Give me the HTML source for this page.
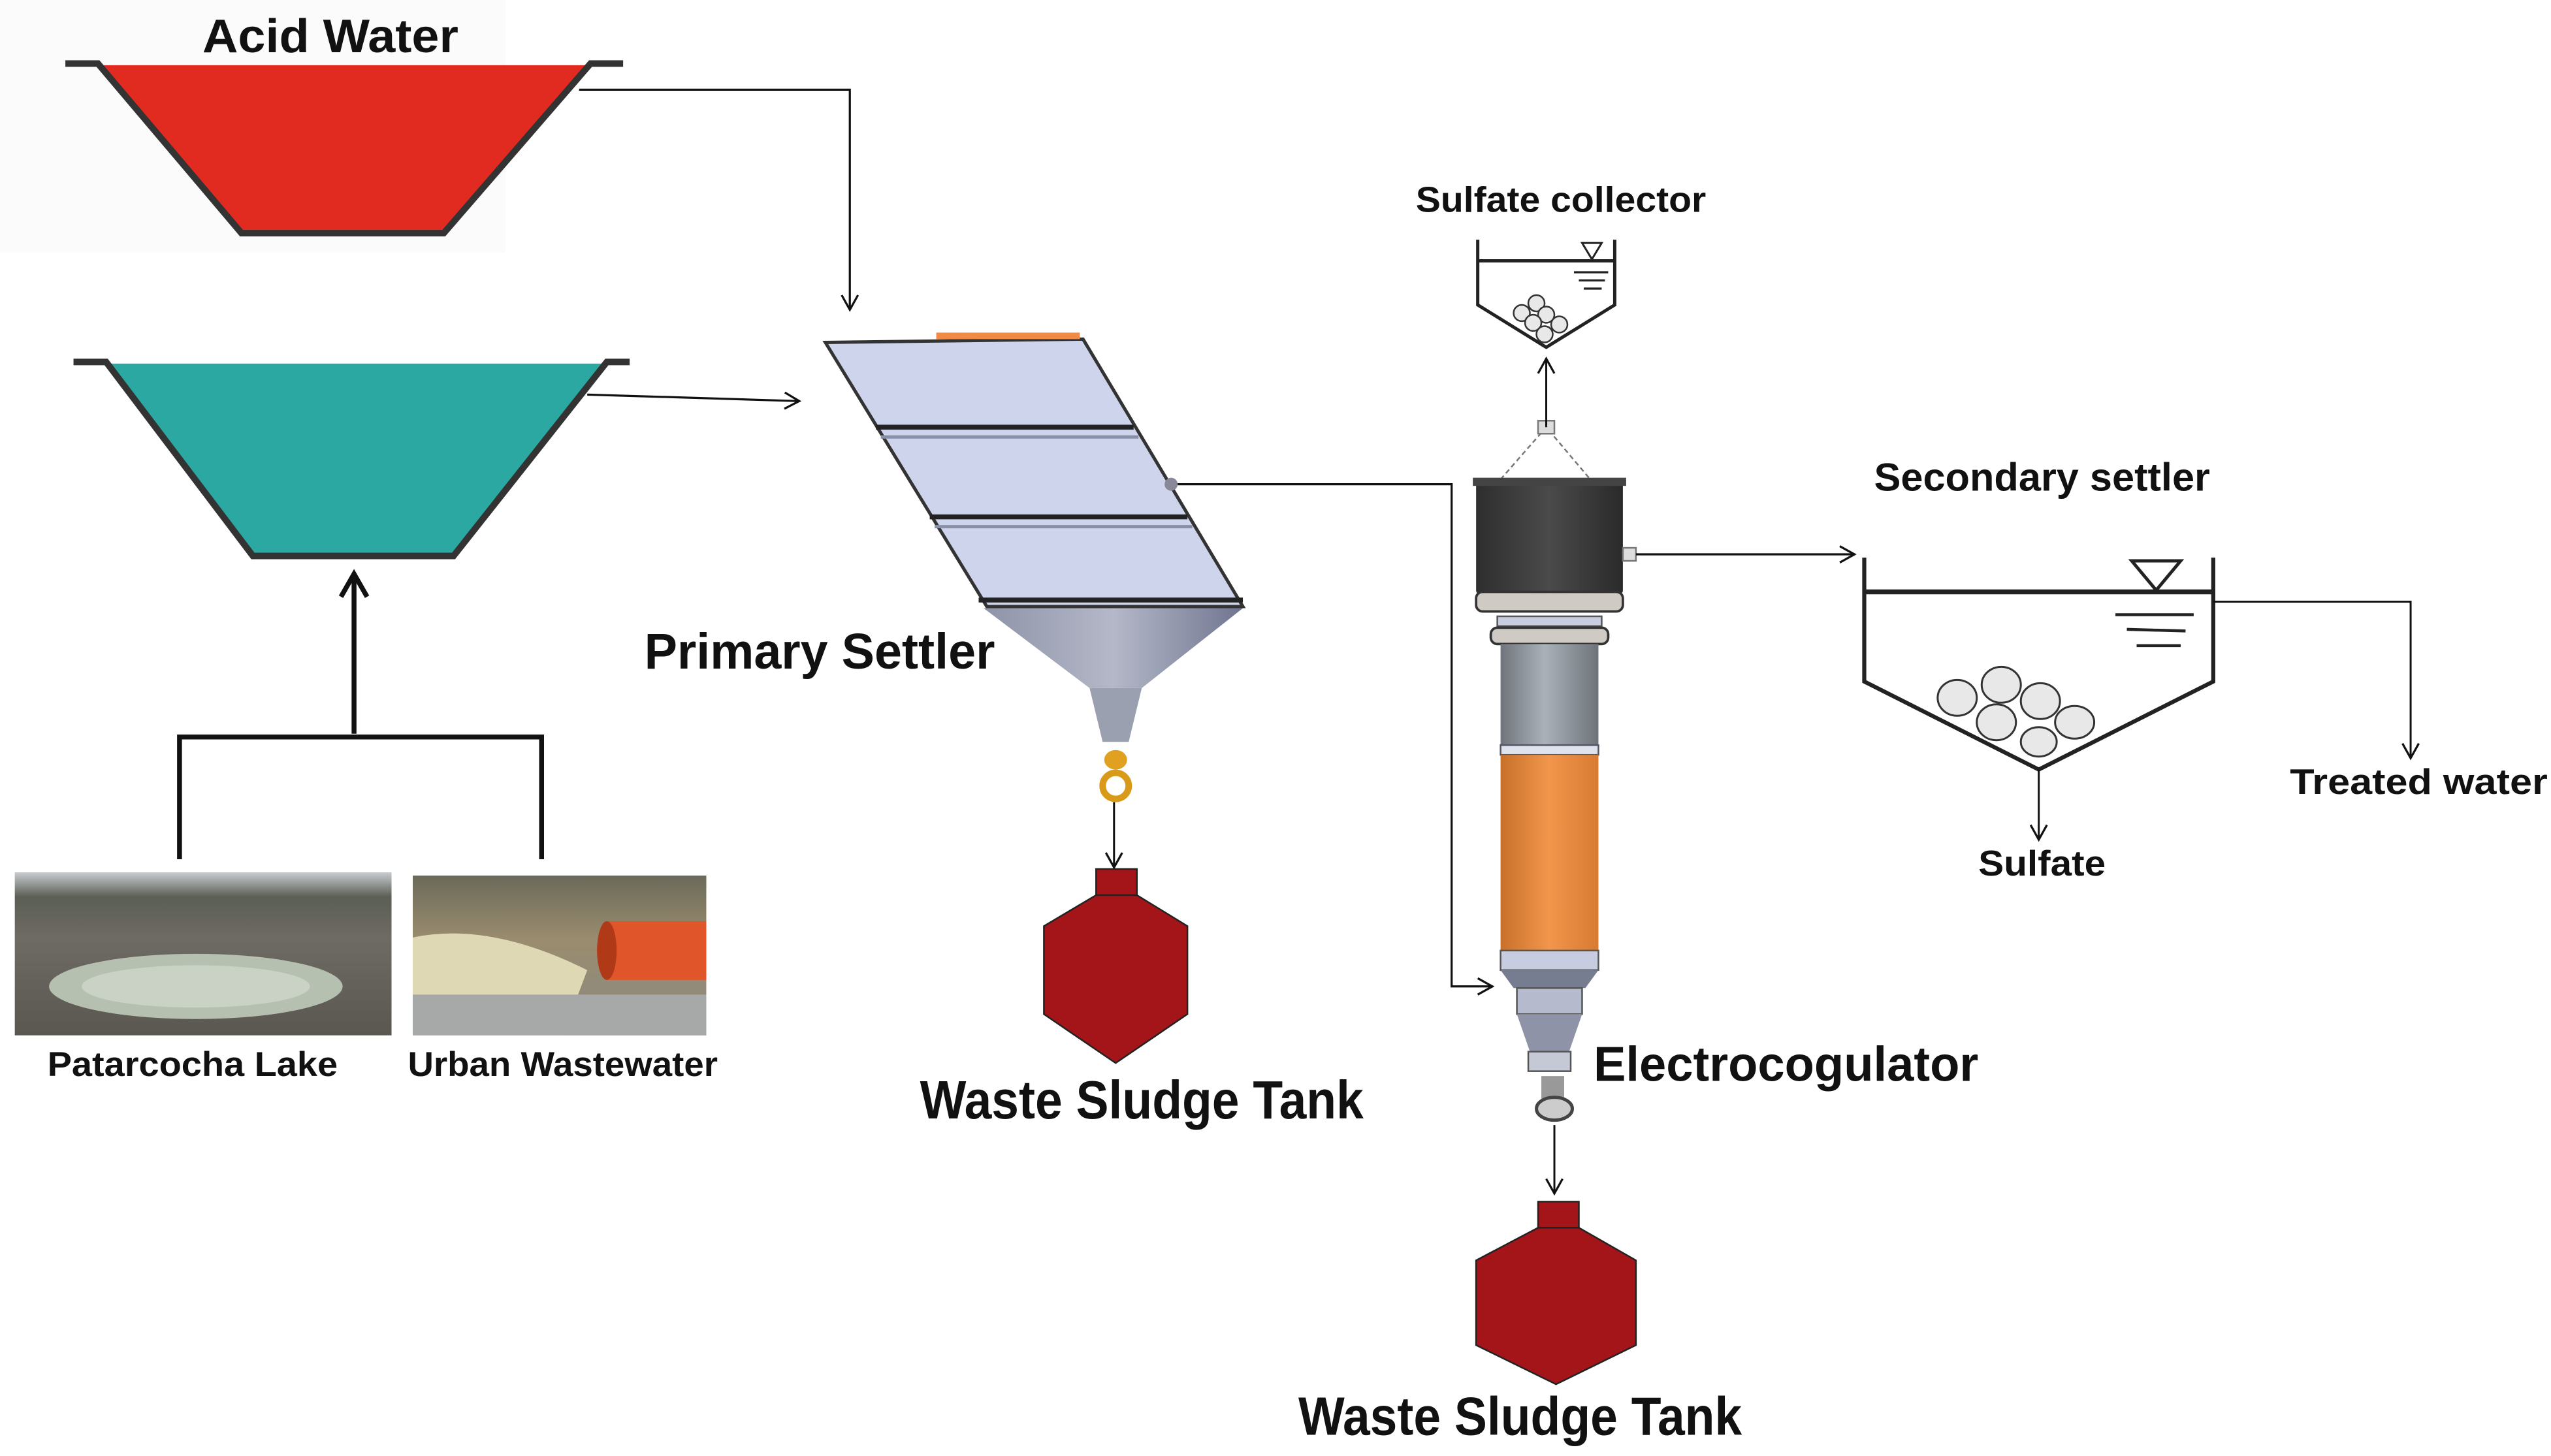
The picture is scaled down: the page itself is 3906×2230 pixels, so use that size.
<!DOCTYPE html>
<html><head><meta charset="utf-8"><style>html,body{margin:0;padding:0;background:#fff}svg{display:block}text{font-family:"Liberation Sans",sans-serif;fill:#111;font-weight:bold}</style></head>
<body>
<svg width="3906" height="2230" viewBox="0 0 1564 893" xmlns="http://www.w3.org/2000/svg">
<defs>
<linearGradient id="dk" x1="0" x2="1"><stop offset="0" stop-color="#2e2e2e"/><stop offset=".5" stop-color="#4a4a4a"/><stop offset="1" stop-color="#2a2a2a"/></linearGradient>
<linearGradient id="gr" x1="0" x2="1"><stop offset="0" stop-color="#6f757b"/><stop offset=".45" stop-color="#aab1b8"/><stop offset="1" stop-color="#6d7379"/></linearGradient>
<linearGradient id="or" x1="0" x2="1"><stop offset="0" stop-color="#c8702a"/><stop offset=".5" stop-color="#f2964c"/><stop offset="1" stop-color="#d77a32"/></linearGradient>
<linearGradient id="cone" x1="0" x2="1"><stop offset="0" stop-color="#8e93a8"/><stop offset=".5" stop-color="#b4b8c8"/><stop offset="1" stop-color="#707590"/></linearGradient>
<linearGradient id="lake" x1="0" y1="0" x2="0" y2="1"><stop offset="0" stop-color="#c9ccd0"/><stop offset=".15" stop-color="#5b5f55"/><stop offset=".4" stop-color="#6e6a64"/><stop offset="1" stop-color="#5a5650"/></linearGradient>
<linearGradient id="ww" x1="0" y1="0" x2="0" y2="1"><stop offset="0" stop-color="#6b6a5a"/><stop offset=".4" stop-color="#9a8c6e"/><stop offset="1" stop-color="#8b8a84"/></linearGradient>
<marker id="ah" markerWidth="12" markerHeight="12" refX="10" refY="6" orient="auto" markerUnits="userSpaceOnUse"><path d="M1,1 L10,6 L1,11" fill="none" stroke="#111" stroke-width="1.3"/></marker>
</defs>
<rect width="1564" height="893" fill="#fff"/>
<rect x="0" y="0" width="310" height="155" fill="#fbfbfb"/>
<text x="124" y="32" font-size="29" textLength="157" lengthAdjust="spacingAndGlyphs">Acid Water</text>
<polygon points="60,40 362,40 272,143 148,143" fill="#e22b20"/>
<polyline points="40,39 60,39 148,143 272,143 362,39 382,39" fill="none" stroke="#333" stroke-width="4"/>
<polygon points="65,223 372,223 278,341 155,341" fill="#2ba8a2"/>
<polyline points="45,222 65,222 155,341 278,341 372,222 386,222" fill="none" stroke="#333" stroke-width="4"/>
<polyline points="355,55 521,55 521,190" fill="none" stroke="#111" stroke-width="1.3" marker-end="url(#ah)"/>
<line x1="360" y1="242" x2="490" y2="246" stroke="#111" stroke-width="1.3" marker-end="url(#ah)"/>
<line x1="217" y1="450" x2="217" y2="354" stroke="#111" stroke-width="3"/>
<polyline points="209,366 217,352 225,366" fill="none" stroke="#111" stroke-width="3"/>
<polyline points="110,527 110,452 332,452 332,527" fill="none" stroke="#111" stroke-width="3"/>
<rect x="9" y="535" width="231" height="100" fill="url(#lake)"/>
<ellipse cx="120" cy="605" rx="90" ry="20" fill="#b5c0b0"/>
<ellipse cx="120" cy="605" rx="70" ry="13" fill="#c9d2c4"/>
<rect x="253" y="537" width="180" height="98" fill="url(#ww)"/>
<path d="M253,575 Q300,565 360,595 L345,635 L253,635Z" fill="#ded9b4"/>
<rect x="372" y="565" width="61" height="36" fill="#e0552a"/>
<ellipse cx="372" cy="583" rx="6" ry="18" fill="#b03a18"/>
<rect x="253" y="610" width="180" height="25" fill="#a7a9a8"/>
<text x="118" y="660" font-size="21" text-anchor="middle" textLength="178" lengthAdjust="spacingAndGlyphs">Patarcocha Lake</text>
<text x="345" y="660" font-size="21" text-anchor="middle" textLength="190" lengthAdjust="spacingAndGlyphs">Urban Wastewater</text>
<polygon points="506,210 664,208 762,372 605,372" fill="#cfd4ed" stroke="#333" stroke-width="2"/>
<rect x="574" y="204" width="88" height="4" fill="#f08a44"/>
<line x1="537" y1="262" x2="695" y2="262" stroke="#222" stroke-width="3"/>
<line x1="540" y1="268" x2="698" y2="268" stroke="#8890a8" stroke-width="2"/>
<line x1="570" y1="317" x2="728" y2="317" stroke="#222" stroke-width="3"/>
<line x1="573" y1="323" x2="731" y2="323" stroke="#8890a8" stroke-width="2"/>
<line x1="600" y1="368" x2="762" y2="368" stroke="#222" stroke-width="3"/>
<polygon points="603,373 762,373 700,422 668,422" fill="url(#cone)"/>
<polygon points="668,422 700,422 692,455 676,455" fill="#9aa0b0"/>
<ellipse cx="684" cy="466" rx="7" ry="6" fill="#e0a020"/>
<circle cx="684" cy="482" r="8" fill="none" stroke="#d89a18" stroke-width="4"/>
<circle cx="718" cy="297" r="4" fill="#889"/>
<text x="395" y="410" font-size="31" textLength="215" lengthAdjust="spacingAndGlyphs">Primary Settler</text>
<line x1="683" y1="492" x2="683" y2="532" stroke="#111" stroke-width="1.2" marker-end="url(#ah)"/>
<rect x="672" y="533" width="25" height="16" fill="#a31519" stroke="#222" stroke-width="1"/>
<polygon points="672,549 697,549 728,568 728,622 684,652 640,622 640,568" fill="#a31519" stroke="#222" stroke-width="1"/>
<text x="700" y="686" font-size="33" text-anchor="middle" textLength="272" lengthAdjust="spacingAndGlyphs">Waste Sludge Tank</text>
<polyline points="722,297 890,297 890,605 915,605" fill="none" stroke="#111" stroke-width="1.3" marker-end="url(#ah)"/>
<path d="M920,294 L948,262 L975,294" fill="none" stroke="#777" stroke-width="1" stroke-dasharray="3,2"/>
<rect x="943" y="258" width="10" height="8" fill="#ddd" stroke="#777"/>
<rect x="905" y="295" width="90" height="70" rx="3" fill="url(#dk)"/>
<rect x="903" y="293" width="94" height="5" fill="#444"/>
<rect x="905" y="363" width="90" height="12" rx="4" fill="#cfcbc4" stroke="#333" stroke-width="1.5"/>
<rect x="918" y="378" width="64" height="6" fill="#c8cde0" stroke="#555"/>
<rect x="914" y="385" width="72" height="10" rx="4" fill="#cfcbc4" stroke="#333" stroke-width="1.5"/>
<rect x="920" y="395" width="60" height="62" fill="url(#gr)"/>
<rect x="920" y="457" width="60" height="6" fill="#dfe3ee" stroke="#556"/>
<rect x="920" y="463" width="60" height="120" fill="url(#or)"/>
<rect x="920" y="583" width="60" height="12" fill="#c8cce0" stroke="#555"/>
<polygon points="920,595 980,595 972,606 928,606" fill="#777d90"/>
<rect x="930" y="606" width="40" height="16" fill="#b5bacc" stroke="#555"/>
<polygon points="930,622 970,622 962,645 938,645" fill="#8e93a8"/>
<rect x="937" y="645" width="26" height="12" fill="#c5c9d6" stroke="#555"/>
<rect x="945" y="660" width="14" height="14" fill="#999"/>
<ellipse cx="953" cy="680" rx="11" ry="7" fill="#ccc" stroke="#444" stroke-width="2"/>
<rect x="995" y="336" width="8" height="8" fill="#ddd" stroke="#777"/>
<text x="977" y="663" font-size="30" textLength="236" lengthAdjust="spacingAndGlyphs">Electrocogulator</text>
<line x1="953" y1="690" x2="953" y2="732" stroke="#111" stroke-width="1.2" marker-end="url(#ah)"/>
<rect x="943" y="737" width="25" height="16" fill="#a31519" stroke="#222" stroke-width="1"/>
<polygon points="943,753 968,753 1003,773 1003,825 954,849 905,825 905,773" fill="#a31519" stroke="#222" stroke-width="1"/>
<text x="932" y="880" font-size="33" text-anchor="middle" textLength="272" lengthAdjust="spacingAndGlyphs">Waste Sludge Tank</text>
<text x="957" y="130" font-size="22" text-anchor="middle" textLength="178" lengthAdjust="spacingAndGlyphs">Sulfate collector</text>
<polyline points="906,147 906,187 948,213 990,187 990,147" fill="none" stroke="#222" stroke-width="2"/>
<line x1="906" y1="160" x2="990" y2="160" stroke="#222" stroke-width="2"/>
<polygon points="970,149 982,149 976,159" fill="#fff" stroke="#222" stroke-width="1.2"/>
<line x1="965" y1="167" x2="986" y2="167" stroke="#222" stroke-width="1.3"/>
<line x1="968" y1="172" x2="984" y2="172" stroke="#222" stroke-width="1.3"/>
<line x1="971" y1="177" x2="982" y2="177" stroke="#222" stroke-width="1.3"/>
<g fill="#e8e8e8" stroke="#333" stroke-width="1">
<circle cx="942" cy="186" r="5"/><circle cx="933" cy="192" r="5"/><circle cx="948" cy="193" r="5"/><circle cx="940" cy="198" r="5"/><circle cx="956" cy="199" r="5"/><circle cx="947" cy="205" r="5"/></g>
<line x1="948" y1="262" x2="948" y2="220" stroke="#111" stroke-width="1.2" marker-end="url(#ah)"/>
<line x1="1003" y1="340" x2="1137" y2="340" stroke="#111" stroke-width="1.3" marker-end="url(#ah)"/>
<text x="1252" y="301" font-size="24" text-anchor="middle" textLength="206" lengthAdjust="spacingAndGlyphs">Secondary settler</text>
<polyline points="1143,342 1143,418 1250,472 1357,418 1357,342" fill="none" stroke="#222" stroke-width="2.5"/>
<line x1="1143" y1="363" x2="1357" y2="363" stroke="#222" stroke-width="3"/>
<polygon points="1307,344 1337,344 1322,362" fill="#fff" stroke="#222" stroke-width="2"/>
<line x1="1297" y1="377" x2="1345" y2="377" stroke="#222" stroke-width="1.8"/>
<line x1="1304" y1="386" x2="1340" y2="387" stroke="#222" stroke-width="1.8"/>
<line x1="1310" y1="396" x2="1337" y2="396" stroke="#222" stroke-width="1.8"/>
<g fill="#e8e8e8" stroke="#333" stroke-width="1.2">
<ellipse cx="1200" cy="428" rx="12" ry="11"/><ellipse cx="1227" cy="420" rx="12" ry="11"/><ellipse cx="1251" cy="430" rx="12" ry="11"/><ellipse cx="1224" cy="443" rx="12" ry="11"/><ellipse cx="1272" cy="443" rx="12" ry="10"/><ellipse cx="1250" cy="455" rx="11" ry="9"/></g>
<polyline points="1357,369 1478,369 1478,465" fill="none" stroke="#111" stroke-width="1.2" marker-end="url(#ah)"/>
<text x="1483" y="487" font-size="22" text-anchor="middle" textLength="158" lengthAdjust="spacingAndGlyphs">Treated water</text>
<line x1="1250" y1="472" x2="1250" y2="515" stroke="#111" stroke-width="1.2" marker-end="url(#ah)"/>
<text x="1252" y="537" font-size="22" text-anchor="middle" textLength="78" lengthAdjust="spacingAndGlyphs">Sulfate</text>
</svg>
</body></html>
